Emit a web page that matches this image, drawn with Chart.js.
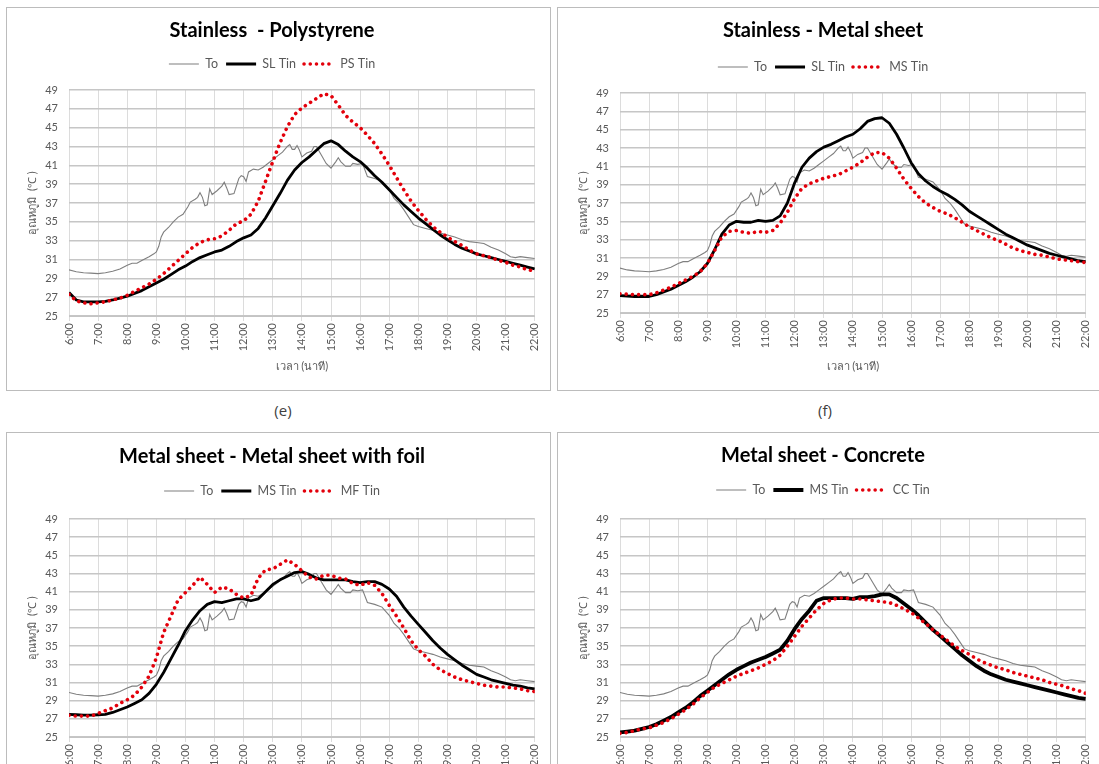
<!DOCTYPE html>
<html>
<head>
<meta charset="utf-8">
<script src="https://cdn.jsdelivr.net/npm/chart.js@4.4.1/dist/chart.umd.min.js"></script>
<style>
  html, body { margin: 0; padding: 0; background: #fff; width: 1099px; height: 764px; overflow: hidden; }
  .panel { position: absolute; width: 545px; height: 384px; border: 1px solid #bcbcbc; box-sizing: border-box; background: #fff; }
  .panel canvas { display: block; }
  .cap { position: absolute; top: 400px; font: 15px "Open Sans", sans-serif; color: #404040; transform: translateX(-50%); }
</style>
</head>
<body>
<div class="panel" style="left:6px; top:7px;"><canvas id="chartE" width="543" height="382"></canvas></div>
<div class="panel" style="left:557px; top:7px;"><canvas id="chartF" width="543" height="382"></canvas></div>
<div class="cap" style="left:283px;">(e)</div>
<div class="cap" style="left:825px;">(f)</div>
<div class="panel" style="left:6px; top:432px;"><canvas id="chartG" width="543" height="382"></canvas></div>
<div class="panel" style="left:557px; top:432px;"><canvas id="chartH" width="543" height="382"></canvas></div>

<script>
// Hour tick labels on the time axis
const hourLabels = ["6:00","7:00","8:00","9:00","10:00","11:00","12:00","13:00","14:00","15:00","16:00","17:00","18:00","19:00","20:00","21:00","22:00"];

// Quarter-hour clock used by the indoor (Tin) series
const clock15 = ["6:00","6:15","6:30","6:45","7:00","7:15","7:30","7:45","8:00","8:15","8:30","8:45",
  "9:00","9:15","9:30","9:45","10:00","10:15","10:30","10:45","11:00","11:15","11:30","11:45",
  "12:00","12:15","12:30","12:45","13:00","13:15","13:30","13:45","14:00","14:15","14:30","14:45",
  "15:00","15:15","15:30","15:45","16:00","16:15","16:30","16:45","17:00","17:15","17:30","17:45",
  "18:00","18:15","18:30","18:45","19:00","19:15","19:30","19:45","20:00","20:15","20:30","20:45",
  "21:00","21:15","21:30","21:45","22:00"];

// Outdoor temperature To (same record in every panel)
const toClock = ["6:00","6:15","6:30","6:45","7:00","7:15","7:30","7:45","8:00","8:10","8:20","8:30","8:45","8:55",
  "9:00","9:05","9:10","9:15","9:25","9:35","9:45","9:55","10:05","10:10","10:20","10:25","10:30","10:35","10:40","10:45","10:50","10:55",
  "11:05","11:15","11:20","11:25","11:30","11:40","11:50","11:55","12:00","12:05","12:10","12:20","12:30","12:40","12:50",
  "13:00","13:10","13:20","13:30","13:35","13:40","13:45","13:50","13:55","14:00","14:10","14:20","14:25","14:30","14:40","14:50",
  "15:00","15:10","15:15","15:20","15:30","15:40","15:45","15:55","16:05","16:15","16:30","16:45",
  "17:00","17:10","17:20","17:30","17:40","17:50","18:00","18:15","18:30","18:45","19:00","19:15","19:30","19:45",
  "20:00","20:15","20:30","20:45","21:00","21:10","21:20","21:30","21:45","22:00"];
const toTemp = [29.9,29.7,29.6,29.55,29.5,29.6,29.75,30.0,30.4,30.6,30.6,30.9,31.3,31.6,
  31.8,32.4,33.4,33.9,34.4,35.0,35.5,35.8,36.6,37.1,37.4,37.6,38.1,37.6,36.7,36.8,38.5,37.9,
  38.3,38.8,39.2,38.6,37.9,38.0,39.6,39.9,39.8,39.3,40.3,40.6,40.5,40.8,41.2,
  41.6,42.0,42.4,43.0,43.2,42.7,42.7,43.1,42.6,41.9,42.3,42.5,43.0,43.0,42.1,41.2,
  40.7,41.4,41.8,41.4,40.9,40.9,41.2,41.1,41.2,39.8,39.6,39.3,
  38.4,37.5,37.0,36.3,35.5,34.7,34.5,34.3,34.1,33.8,33.6,33.4,33.1,32.9,
  32.8,32.7,32.3,32.0,31.6,31.3,31.2,31.3,31.2,31.1];

// (e) Stainless vs Polystyrene
const slTinE = [27.5,26.7,26.5,26.5, 26.5,26.55,26.7,26.9, 27.1,27.4,27.7,28.1, 28.5,28.9,29.4,29.9,
  30.3,30.8,31.2,31.5, 31.8,32.0,32.4,32.9, 33.3,33.6,34.3,35.4, 36.7,38.0,39.4,40.5,
  41.3,41.9,42.6,43.3, 43.6,43.2,42.5,41.9, 41.4,40.7,39.9,39.2, 38.4,37.6,36.8,36.1,
  35.4,34.8,34.2,33.6, 33.1,32.6,32.2,31.9, 31.6,31.4,31.2,31.0, 30.8,30.6,30.4,30.2, 30.0];
const psTinE = [27.3,26.6,26.4,26.3, 26.4,26.5,26.7,26.9, 27.2,27.6,28.0,28.4, 28.9,29.5,30.2,30.9,
  31.6,32.3,32.8,33.1, 33.2,33.5,34.1,34.8, 35.1,35.8,37.2,39.3, 41.4,43.4,45.1,46.4,
  47.1,47.6,48.1,48.6, 48.4,47.4,46.3,45.6, 45.0,44.2,43.3,42.2, 41.0,39.7,38.4,37.2,
  36.2,35.3,34.5,33.9, 33.4,32.9,32.5,32.0, 31.6,31.4,31.2,30.9, 30.7,30.4,30.2,29.9, 29.8];

// (f) Stainless vs Metal sheet
const slTinF = [26.9,26.85,26.8,26.8, 26.8,27.0,27.3,27.6, 28.0,28.4,28.9,29.5, 30.4,31.9,33.6,34.6,
  35.0,34.9,34.9,35.1, 35.0,35.1,35.6,37.0, 39.2,40.9,41.9,42.6, 43.1,43.4,43.8,44.2,
  44.5,45.1,45.9,46.2, 46.3,45.7,44.5,43.0, 41.4,40.2,39.4,38.8, 38.3,37.9,37.4,36.8,
  36.1,35.6,35.1,34.6, 34.1,33.6,33.2,32.8, 32.4,32.1,31.8,31.5, 31.3,31.1,30.9,30.7, 30.6];
const msTinF = [27.1,27.05,27.0,27.0, 27.0,27.2,27.5,27.8, 28.2,28.6,29.0,29.5, 30.4,31.8,33.3,33.9,
  34.0,33.8,33.7,33.9, 33.8,34.0,34.8,36.0, 37.5,38.6,39.1,39.4, 39.7,39.9,40.1,40.5,
  40.9,41.4,42.0,42.5, 42.5,41.9,40.8,39.6, 38.6,37.7,37.0,36.5, 36.1,35.8,35.4,34.9,
  34.4,34.0,33.6,33.2, 32.9,32.5,32.1,31.8, 31.6,31.4,31.3,31.1, 30.9,30.8,30.7,30.6, 30.5];

// Metal sheet vs Metal sheet with foil
const msTinG = [27.5,27.45,27.4,27.4, 27.45,27.5,27.7,28.0, 28.3,28.7,29.1,29.8, 30.8,32.1,33.6,35.1,
  36.7,37.9,38.9,39.6, 39.9,39.8,40.0,40.2, 40.2,40.0,40.2,41.0, 41.8,42.3,42.7,43.1,
  43.2,42.9,42.5,42.3, 42.3,42.3,42.3,42.1, 42.0,42.1,42.1,41.8, 41.3,40.5,39.3,38.3,
  37.4,36.5,35.6,34.8, 34.1,33.5,32.9,32.4, 31.9,31.6,31.3,31.1, 30.9,30.7,30.6,30.4, 30.3];
const mfTinG = [27.4,27.3,27.3,27.3, 27.6,27.9,28.2,28.7, 29.1,29.6,30.5,31.7, 33.7,36.5,38.3,40.1,
  40.9,41.7,42.6,41.8, 40.9,41.5,41.3,40.7, 40.3,40.6,42.5,43.4, 43.5,44.0,44.5,44.0,
  43.3,42.6,42.4,42.8, 42.8,42.5,42.4,41.9, 41.7,42.0,41.7,40.8, 39.5,38.3,37.0,35.6,
  34.6,33.9,33.0,32.4, 32.0,31.6,31.3,31.1, 30.9,30.7,30.6,30.5, 30.5,30.4,30.3,30.1, 30.0];

// Metal sheet vs Concrete
const msTinH = [25.5,25.6,25.7,25.9, 26.1,26.4,26.8,27.2, 27.7,28.2,28.8,29.5, 30.1,30.7,31.3,31.9,
  32.4,32.8,33.2,33.5, 33.8,34.2,34.6,35.6, 36.9,38.0,38.9,40.0, 40.3,40.3,40.3,40.3,
  40.2,40.4,40.4,40.5, 40.7,40.7,40.3,39.7, 39.1,38.4,37.6,36.8, 36.1,35.4,34.7,34.0,
  33.4,32.8,32.3,31.9, 31.6,31.3,31.1,30.9, 30.7,30.5,30.3,30.1, 29.9,29.7,29.5,29.3, 29.2];
const ccTinH = [25.4,25.5,25.7,25.9, 26.0,26.3,26.6,27.0, 27.5,28.0,28.6,29.3, 29.9,30.5,30.9,31.3,
  31.7,32.0,32.3,32.6, 33.0,33.4,34.0,35.0, 36.1,37.2,38.1,39.0, 39.7,40.1,40.3,40.3,
  40.2,40.2,40.1,40.0, 39.9,39.8,39.5,39.1, 38.7,38.1,37.5,36.8, 36.2,35.6,35.0,34.5,
  34.1,33.6,33.2,32.9, 32.6,32.4,32.1,31.9, 31.7,31.5,31.3,31.0, 30.8,30.6,30.3,30.1, 29.8];

const TXT = '#595959';
Chart.defaults.font.family = 'Lato, "Open Sans", sans-serif';

function clockToHours(s) {
  const [h, m] = s.split(':').map(Number);
  return h + m / 60;
}
function points(times, values) {
  return values.map((v, i) => ({ x: clockToHours(times[i]), y: v }));
}

function outdoorSet() {
  return { label: 'To', data: points(toClock, toTemp), borderColor: '#7f7f7f', borderWidth: 1.1, order: 3 };
}
function blackSet(label, values, w) {
  return { label, data: points(clock15, values), borderColor: '#000000', borderWidth: w, borderJoinStyle: 'round', order: 2 };
}
function redSet(label, values) {
  return { label, data: points(clock15, values), borderColor: '#e3000b', borderWidth: 3.6,
           borderDash: [0.01, 6.2], borderCapStyle: 'round', order: 1 };
}

function drawPanel(id, title, datasets, L) {
  new Chart(document.getElementById(id), {
    type: 'line',
    data: { datasets: datasets.map(d => Object.assign({ pointRadius: 0, tension: 0, fill: false }, d)) },
    options: {
      responsive: false,
      animation: false,
      events: [],
      layout: { padding: { top: 0, left: 0, right: 13, bottom: 0 } },
      plugins: {
        title: {
          display: true, text: title, color: '#000',
          font: { size: 20, weight: 'bold', lineHeight: 1.2 },
          padding: { top: L.titleTop, bottom: L.titleBottom }
        },
        subtitle: {
          display: true, text: '', weight: 500,
          font: { size: 1, lineHeight: 1 },
          padding: { top: 0, bottom: L.gap - 1 }
        },
        legend: {
          display: true, position: 'top',
          labels: {
            usePointStyle: true, pointStyleWidth: 30, padding: 8,
            font: { size: 12.5 }, color: TXT,
            generateLabels(chart) {
              return chart.data.datasets.map((ds, i) => ({
                text: ds.label, fontColor: TXT, hidden: false, datasetIndex: i,
                pointStyle: 'line', rotation: 0,
                strokeStyle: ds.borderColor, fillStyle: ds.borderColor,
                lineWidth: ds.borderWidth, lineDash: ds.borderDash || [],
                lineCap: ds.borderCapStyle || 'butt'
              }));
            }
          }
        },
        tooltip: { enabled: false }
      },
      scales: {
        x: {
          type: 'linear', min: 6, max: 22,
          ticks: {
            stepSize: 1, autoSkip: false, minRotation: 90, maxRotation: 90, padding: 2,
            color: TXT, font: { size: 11 },
            callback: v => hourLabels[Math.round(v) - 6]
          },
          grid: { color: '#dcdcdc', lineWidth: 1, tickLength: 5, drawTicks: true },
          border: { color: '#c4c4c4', width: 1 },
          title: { display: true, text: 'เวลา (นาที)', color: TXT, font: { size: 11 }, padding: { top: 0, bottom: 17.4 } },
          afterFit(scale) { scale.height = L.xh; }
        },
        y: {
          min: 25, max: 49,
          ticks: { stepSize: 2, padding: 11, color: TXT, font: { size: 11 } },
          grid: { color: '#c6c6c6', lineWidth: 1.4, drawTicks: false },
          border: { display: false },
          title: { display: true, text: 'อุณหภูมิ  (℃ )', color: TXT, font: { size: 11 }, padding: { top: 19, bottom: 0 } },
          afterFit(scale) { scale.width = 62; }
        }
      }
    }
  });
}

drawPanel('chartE', 'Stainless  - Polystyrene',
  [outdoorSet(), blackSet('SL Tin', slTinE, 2.8), redSet('PS Tin', psTinE)],
  { titleTop: 11, titleBottom: 6.75, gap: 9.75, xh: 74 });

drawPanel('chartF', 'Stainless - Metal sheet',
  [outdoorSet(), blackSet('SL Tin', slTinF, 2.8), redSet('MS Tin', msTinF)],
  { titleTop: 11, titleBottom: 9.75, gap: 9.75, xh: 77 });

drawPanel('chartG', 'Metal sheet - Metal sheet with foil',
  [outdoorSet(), blackSet('MS Tin', msTinG, 2.8), redSet('MF Tin', mfTinG)],
  { titleTop: 12, titleBottom: 7.75, gap: 11.75, xh: 78 });

drawPanel('chartH', 'Metal sheet - Concrete',
  [outdoorSet(), blackSet('MS Tin', msTinH, 3.8), redSet('CC Tin', ccTinH)],
  { titleTop: 11, titleBottom: 7.75, gap: 12.75, xh: 78 });
</script>
</body>
</html>
